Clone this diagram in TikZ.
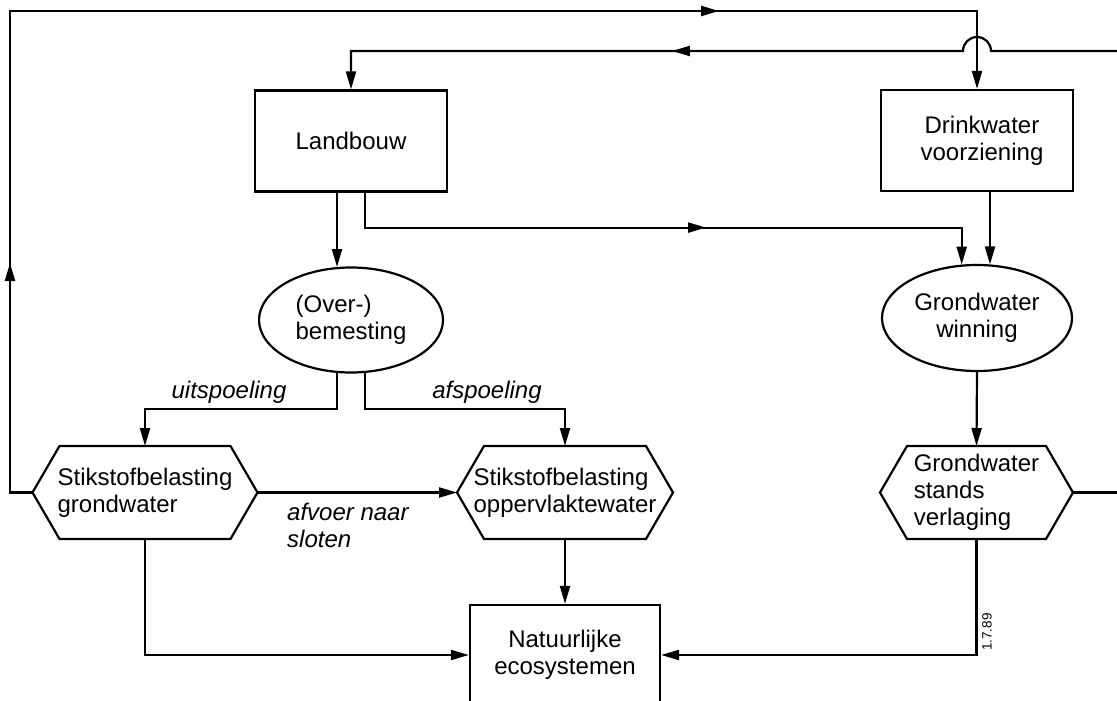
\documentclass[tikz,border=0pt]{standalone}
\usepackage{fontspec}
\setmainfont{Liberation Sans}
\usetikzlibrary{arrows.meta,shapes.geometric,calc,decorations.markings}

\newcommand\nodefont{\fontsize{24}{27}\selectfont}
\newcommand\labfont{\fontsize{24}{27}\selectfont\itshape}

\begin{document}
\begin{tikzpicture}[x=1pt,y=-1pt,
  conn/.style={line width=2.2pt,line join=miter},
  tipped/.style={conn,-{Triangle[length=18pt,width=10pt]}},
  midtip/.tip={Triangle[length=18pt,width=10pt]},
  boxnode/.style={draw,line width=2.2pt,minimum width=192pt,minimum height=101pt,
    inner sep=0pt,align=center,font=\nodefont},
  ovalnode/.style={draw,ellipse,line width=2.2pt,inner sep=0pt,font=\nodefont},
  hexnode/.style={rectangle,minimum height=93pt,inner sep=0pt,outer sep=0pt,
    align=left,font=\nodefont},
  lab/.style={inner sep=0pt,font=\labfont}
]
\useasboundingbox (0,0) rectangle (1117,701);

% free ends and corners of the long feedback lines
\coordinate (cTL) at (10,11);
\coordinate (eR1) at (1117,51);
\coordinate (eR2) at (1117,492.5);

% boxes
\node[boxnode] (lb) at (351,141) {Landbouw};
\node[boxnode] (dw) at (977,140.5) {\hspace*{10pt}Drinkwater\\\hspace*{10pt}voorziening};
\node[boxnode,minimum width=190pt,minimum height=100pt] (nat) at (565,655)
  {Natuurlijke\\ecosystemen};

% ellipses
\node[ovalnode,minimum width=184pt,minimum height=105pt,align=left] (bm) at (351,320)
  {(Over-)\\bemesting};
\node[ovalnode,minimum width=190pt,minimum height=106pt,align=center] (wg) at (977,318)
  {Grondwater\\winning};

% hexagons
\node[hexnode,minimum width=225pt] (hL) at (145,492.5) {Stikstofbelasting\\grondwater};
\node[hexnode,minimum width=216pt] (hO) at (565,492.5) {Stikstofbelasting\\oppervlaktewater};
\node[hexnode,minimum width=193pt] (hR) at (976.5,492.5) {Grondwater\\stands\\verlaging};
\foreach \h in {hL,hO,hR}
  \draw[conn] (\h.west) -- ($(\h.north west)+(27,0)$) -- ($(\h.north east)+(-27,0)$)
    -- (\h.east) -- ($(\h.south east)+(-27,0)$) -- ($(\h.south west)+(27,0)$) -- cycle;

% edge labels
\node[lab,anchor=base] (uit) at (229,398) {uitspoeling};
\node[lab,anchor=base] (afs) at (487,398) {afspoeling};
\node[lab,anchor=base west,align=left] (afv) at (287,547) {afvoer naar\\sloten};
\node[rotate=90,inner sep=0pt,font=\fontsize{13.5}{13.5}\selectfont] (date) at (987,632) {1.7.89};

% feedback from nitrogen load in groundwater to drinking water supply
\draw[tipped,postaction={decorate},decoration={markings,
    mark=at position 252pt with {\arrow{midtip}},
    mark=at position 1213pt with {\arrow{midtip}}}]
  (hL.west) -| (cTL) -| (dw.north);

% feedback from the right-hand side to agriculture, hopping over the line above
\draw[tipped,postaction={decorate},decoration={markings,
    mark=at position 461pt with {\arrow{midtip}}}]
  (eR1) -- ($(dw.north|-eR1)+(14,0)$) arc[start angle=0,end angle=180,radius=14pt]
  -| (lb.north);

% agriculture
\draw[tipped] ([xshift=-14pt]lb.south) -- ([xshift=-14pt]lb.south |- bm.105);
\draw[tipped,postaction={decorate},decoration={markings,
    mark=at position 376pt with {\arrow{midtip}}}]
  ([xshift=14pt]lb.south) -- ++(0,35) -| (wg.106);
\draw[tipped] ([xshift=13pt]dw.south) -- ([xshift=13pt]dw.south |- wg.76);

% fertilisation
\draw[tipped] (bm.255) -- ++(0,36) -| (hL.north);
\draw[tipped] (bm.285) -- ++(0,36) -| (hO.north);

% nitrogen loads and groundwater level
\draw[tipped] (hL.east) -- (hO.west);
\draw[tipped] (hO.south) -- (nat.north);
\draw[tipped] (hL.south) |- (nat.west);
\draw[tipped] (wg.south) -- (hR.north);
\draw[tipped] (hR.south) |- (nat.east);
\draw[conn] (hR.east) -- (eR2);
\end{tikzpicture}
\end{document}
